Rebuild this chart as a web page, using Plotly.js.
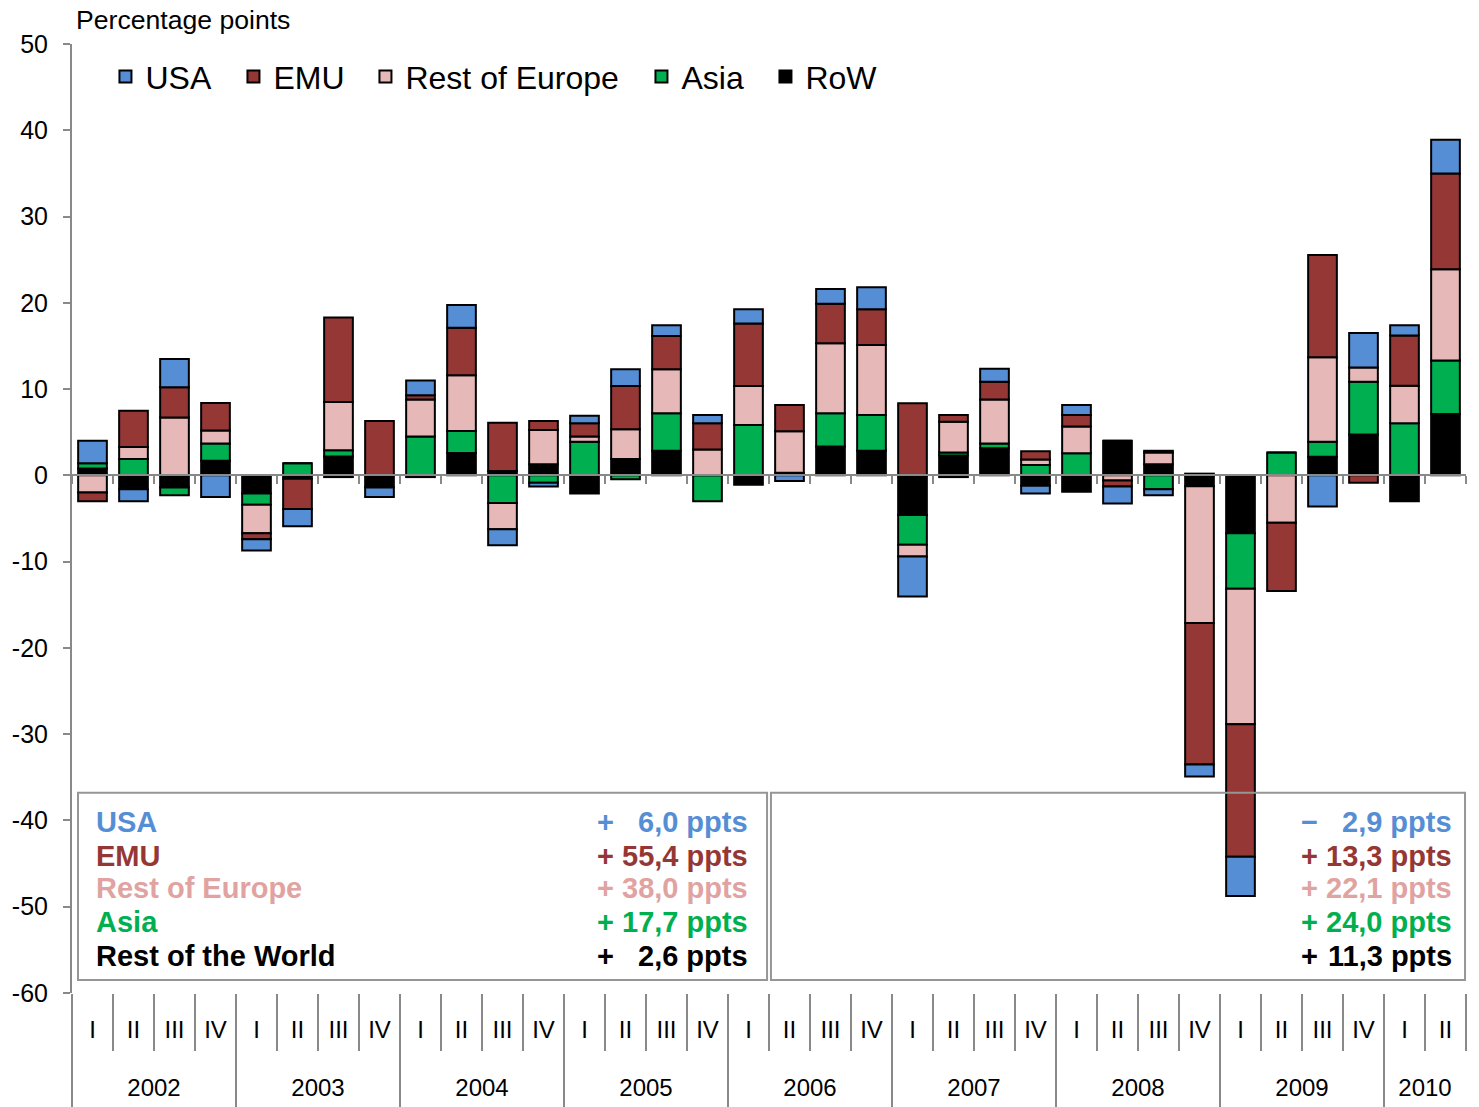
<!DOCTYPE html>
<html>
<head>
<meta charset="utf-8">
<script src="https://cdn.plot.ly/plotly-3.0.1.min.js"></script>
<style>html,body{margin:0;padding:0;background:#fff;}#chart{width:1479px;height:1107px;}</style>
</head>
<body>
<div id="chart"></div>
<script>
// ---- data ----
const years = ['2002','2002','2002','2002','2003','2003','2003','2003','2004','2004','2004','2004',
  '2005','2005','2005','2005','2006','2006','2006','2006','2007','2007','2007','2007',
  '2008','2008','2008','2008','2009','2009','2009','2009','2010','2010'];
const quarters = ['I','II','III','IV','I','II','III','IV','I','II','III','IV',
  'I','II','III','IV','I','II','III','IV','I','II','III','IV',
  'I','II','III','IV','I','II','III','IV','I','II'];

const row  = [0.8,-1.6,-1.4,1.7,-2.1,-0.4,2.2,-1.4,-0.2,2.6,0.5,1.3,-2.1,1.9,2.85,0,-1.1,0.3,3.35,2.85,-4.6,2.3,3.15,-1.2,-1.9,4.0,1.3,-1.25,-6.7,0,2.15,4.75,-3.0,7.1];
const asia = [0.6,1.9,-0.9,2.0,-1.3,1.4,0.7,0,4.5,2.55,-3.2,-0.85,3.9,-0.45,4.35,-3.0,5.85,0,3.85,4.15,-3.45,0.35,0.55,1.2,2.55,0,-1.6,0.2,-6.45,2.65,1.75,6.1,6.05,6.2];
const roe  = [-2.0,1.4,6.7,1.5,-3.3,0,5.6,0,4.3,6.45,-3.05,3.95,0.6,3.45,5.1,3.0,4.5,4.8,8.1,8.1,-1.35,3.55,5.1,0.65,3.1,-0.6,1.35,-15.85,-15.7,-5.5,9.8,1.65,4.35,10.6];
const emu  = [-1.0,4.2,3.5,3.2,-0.7,-3.5,9.8,6.3,0.5,5.5,5.6,1.05,1.55,5.0,3.85,3.05,7.25,3.05,4.6,4.15,8.35,0.8,2.05,0.95,1.35,-0.7,0.2,-16.4,-15.35,-7.9,11.85,-0.85,5.8,11.1];
const usa  = [2.6,-1.4,3.3,-2.5,-1.3,-2.0,-0.2,-1.1,1.7,2.65,-1.85,-0.45,0.85,1.95,1.25,0.95,1.65,-0.65,1.7,2.55,-4.65,-0.2,1.5,-0.9,1.15,-1.95,-0.7,-1.4,-4.55,0,-3.6,4.0,1.2,3.9];

const boxLabels   = ['USA','EMU','Rest of Europe','Asia','Rest of the World'];
const leftTotals  = [6.0, 55.4, 38.0, 17.7, 2.6];
const rightTotals = [-2.9, 13.3, 22.1, 24.0, 11.3];

const seriesNames  = ['RoW','Asia','Rest of Europe','EMU','USA'];
const seriesValues = [row, asia, roe, emu, usa];
const fillColors   = ['#000000','#00B050','#E6B9B8','#953735','#558ED5'];
const textColors   = ['#558ED5','#953735','#E0A3A1','#00B050','#000000']; // box order
const legendWidths = [80, 79, 231, 87, 83];

// ---- build ----
const FONT = 'Arial, "Liberation Sans", sans-serif';
const cats = years.map((y, i) => y + ' ' + quarters[i]);
const traces = seriesNames.map((n, i) => ({
  type: 'bar', name: n, x: cats, y: seriesValues[i],
  marker: {color: fillColors[i], line: {color: '#000', width: 2}},
  legendwidth: legendWidths[i]
}));
['x2', 'x3', 'x4'].forEach(ax => traces.push({type: 'scatter', x: [], y: [], xaxis: ax, yaxis: 'y', showlegend: false, hoverinfo: 'skip'}));

// year groups
const yearNames = [], yearCenters = [], yearBounds = [];
years.forEach((y, i) => {
  if (i === 0 || years[i - 1] !== y) { yearNames.push(y); yearBounds.push(i - 0.5); }
});
yearNames.forEach(y => {
  const idx = years.map((v, i) => v === y ? i : -1).filter(i => i >= 0);
  yearCenters.push((idx[0] + idx[idx.length - 1]) / 2);
});

const yTicks = [];
for (let v = -60; v <= 50; v += 10) yTicks.push(v);

const lineY = [-40.2, -44.1, -47.8, -51.75, -55.7];
const fmt = v => Math.abs(v).toFixed(1).replace('.', ',') + ' ppts';
const annotations = [{
  text: 'Percentage points', xref: 'paper', yref: 'paper', x: 0.0015, y: 1.0253,
  xanchor: 'left', yanchor: 'middle', showarrow: false, font: {family: FONT, size: 26.6, color: '#000'}
}];
boxLabels.forEach((lab, i) => {
  const f = {family: FONT, size: 29, color: textColors[i]};
  const base = {yref: 'y', xref: 'paper', y: lineY[i], yanchor: 'middle', showarrow: false, font: f};
  annotations.push(Object.assign({}, base, {text: '<b>' + lab + '</b>', x: 0.0158, xanchor: 'left'}));
  annotations.push(Object.assign({}, base, {text: '<b>' + (leftTotals[i] < 0 ? '\u2212' : '+') + '</b>', x: 0.3752, xanchor: 'left'}));
  annotations.push(Object.assign({}, base, {text: '<b>' + fmt(leftTotals[i]) + '</b>', x: 0.4864, xanchor: 'right'}));
  annotations.push(Object.assign({}, base, {text: '<b>' + (rightTotals[i] < 0 ? '\u2212' : '+') + '</b>', x: 0.8803, xanchor: 'left'}));
  annotations.push(Object.assign({}, base, {text: '<b>' + fmt(rightTotals[i]) + '</b>', x: 0.9914, xanchor: 'right'}));
});

const boxLine = {color: '#969696', width: 2};
const shapes = [
  {type: 'rect', xref: 'paper', yref: 'y', x0: 0.0043, x1: 0.4986, y0: -36.8, y1: -58.5, line: boxLine, layer: 'above'},
  {type: 'rect', xref: 'paper', yref: 'y', x0: 0.5014, x1: 0.9993, y0: -36.8, y1: -58.5, line: boxLine, layer: 'above'}
];

const axGray = '#898989';
const xRange = [-0.5, cats.length - 0.5];
const layout = {
  width: 1479, height: 1107,
  margin: {l: 72, r: 13, t: 44, b: 114},
  paper_bgcolor: '#fff', plot_bgcolor: '#fff',
  barmode: 'relative', bargap: 0.3,
  font: {family: FONT, color: '#000'},
  showlegend: true,
  legend: {orientation: 'h', traceorder: 'reversed', x: 0.024, y: 0.9945, xanchor: 'left', yanchor: 'top',
           font: {family: FONT, size: 32, color: '#000'}, bgcolor: 'rgba(0,0,0,0)'},
  xaxis: {type: 'category', categoryorder: 'array', categoryarray: cats, range: xRange,
          tickmode: 'array', tickvals: cats, ticktext: quarters,
          showgrid: false, zeroline: false, showline: false,
          ticks: 'outside', tickson: 'boundaries', ticklen: 57, tickcolor: axGray, tickwidth: 2,
          ticklabelstandoff: 20,
          tickfont: {family: FONT, size: 24, color: '#000'}, fixedrange: true},
  xaxis2: {overlaying: 'x', anchor: 'free', position: 60/110, range: xRange, showgrid: false, zeroline: false,
           showline: true, linecolor: axGray, linewidth: 2, ticks: 'outside', ticklen: 8, tickcolor: axGray, tickwidth: 2,
           tick0: -0.5, dtick: 1, showticklabels: false, fixedrange: true},
  xaxis3: {overlaying: 'x', anchor: 'free', position: 0, range: xRange, showgrid: false, zeroline: false, showline: false,
           tickmode: 'array', tickvals: yearBounds, ticks: 'outside', ticklen: 114, tickcolor: axGray, tickwidth: 2,
           showticklabels: false, fixedrange: true},
  xaxis4: {overlaying: 'x', anchor: 'free', position: 0, range: xRange, showgrid: false, zeroline: false, showline: false,
           tickmode: 'array', tickvals: yearCenters, ticktext: yearNames, ticks: '', ticklabelstandoff: 78,
           tickfont: {family: FONT, size: 24, color: '#000'}, fixedrange: true},
  yaxis: {range: [-60, 50], tickmode: 'array', tickvals: yTicks, ticktext: yTicks.map(String),
          showgrid: false, zeroline: false, showline: true, linecolor: axGray, linewidth: 2,
          ticks: 'outside', ticklen: 7, tickcolor: axGray, tickwidth: 2, ticklabelstandoff: 10,
          tickfont: {family: FONT, size: 25, color: '#000'}, fixedrange: true},
  annotations: annotations,
  shapes: shapes
};

Plotly.newPlot('chart', traces, layout, {displayModeBar: false, staticPlot: true});
</script>
</body>
</html>
